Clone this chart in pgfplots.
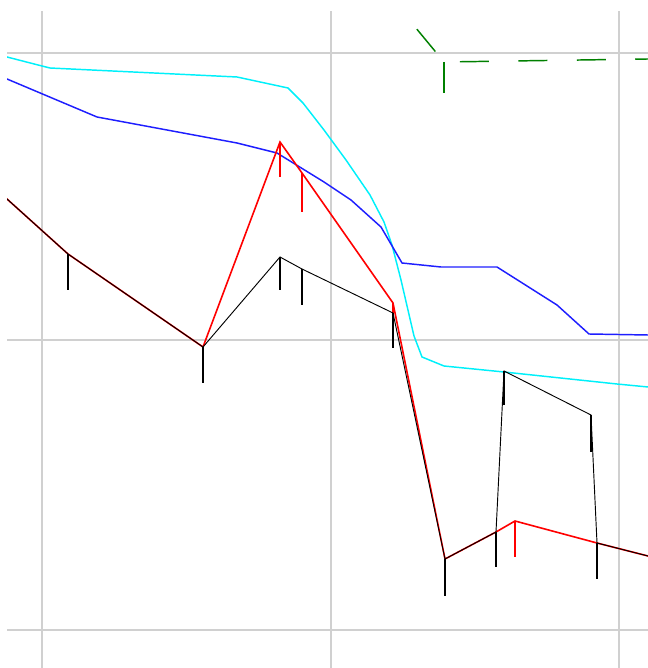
\documentclass[border=0pt]{standalone}
\usepackage{pgfplots}
\pgfplotsset{compat=1.18}
\definecolor{gridc}{RGB}{208,208,208}
\definecolor{cy}{RGB}{0,240,250}
\definecolor{bl}{RGB}{30,30,255}
\definecolor{rd}{RGB}{255,0,0}
\definecolor{gr}{RGB}{0,128,0}
\begin{document}
\begin{tikzpicture}
\useasboundingbox (0,0) rectangle (486pt,501pt);
\begin{axis}[
  at={(5.25pt,0pt)}, anchor=south west,
  scale only axis, width=480.75pt, height=492.75pt,
  xmin=7, xmax=648, ymin=0, ymax=657,
  xtick={42,331,619}, ytick={37.5,328,615},
  xticklabels={}, yticklabels={},
  grid=major,
  major grid style={line width=1.5pt, color=gridc},
  axis line style={draw=none},
  major tick length=0pt,
  clip=true,
  every axis plot/.append style={line width=1.1pt},
]
% cyan
\addplot[cy, no markers] coordinates {
(-30,621) (7,611) (42,602) (50,600) (237,591) (288,580) (303,565) (324,538) (346,508) (370,473) (384,446) (392,423) (401,388) (414,332) (422,311) (444,302) (504,296) (617,284) (648,281) (680,278)
};
% blue
\addplot[bl, no markers] coordinates {
(-30,605) (7,589) (97,551) (237,525) (277,515) (324,486) (351,468) (381,441) (402,405) (441,401) (497,401) (557,363) (589,334) (648,333) (680,333)
};
% red
\addplot[rd, no markers, line width=1.2pt, error bars/.cd, y dir=minus, y explicit, error mark=none, error bar style={line width=1.5pt}] coordinates {
(-30,502) (7,469) (68,414) -= (0,36) (203,321) -= (0,36) (280,526) -= (0,35) (302,495) -= (0,39) (393,365) -= (0,36) (445,109) -= (0,36) (496,136) (515,147) -= (0,36) (597,125) (648,112) (680,104)
};
% black
\addplot[black, no markers, line width=0.7pt, error bars/.cd, y dir=minus, y explicit, error mark=none, error bar style={line width=1.5pt}] coordinates {
(-30,502) (7,469) (68,414) -= (0,36) (203,321) -= (0,36) (280,411) -= (0,33) (302,399) -= (0,36) (393,355) -= (0,35) (445,109) -= (0,37) (496,136) -= (0,35) (504,297) -= (0,34) (591,253) -= (0,37) (597,125) -= (0,36) (648,112) (680,104)
};
% green dashed
\addplot[gr, no markers, dash pattern=on 21.75pt off 22.1pt, error bars/.cd, y dir=minus, y explicit, error mark=none, error bar style={line width=1.5pt, solid}] coordinates {
(379.6,683.9) (444,606) -= (0,31) (648,609) (680,609.5)
};
\end{axis}
\end{tikzpicture}
\end{document}
